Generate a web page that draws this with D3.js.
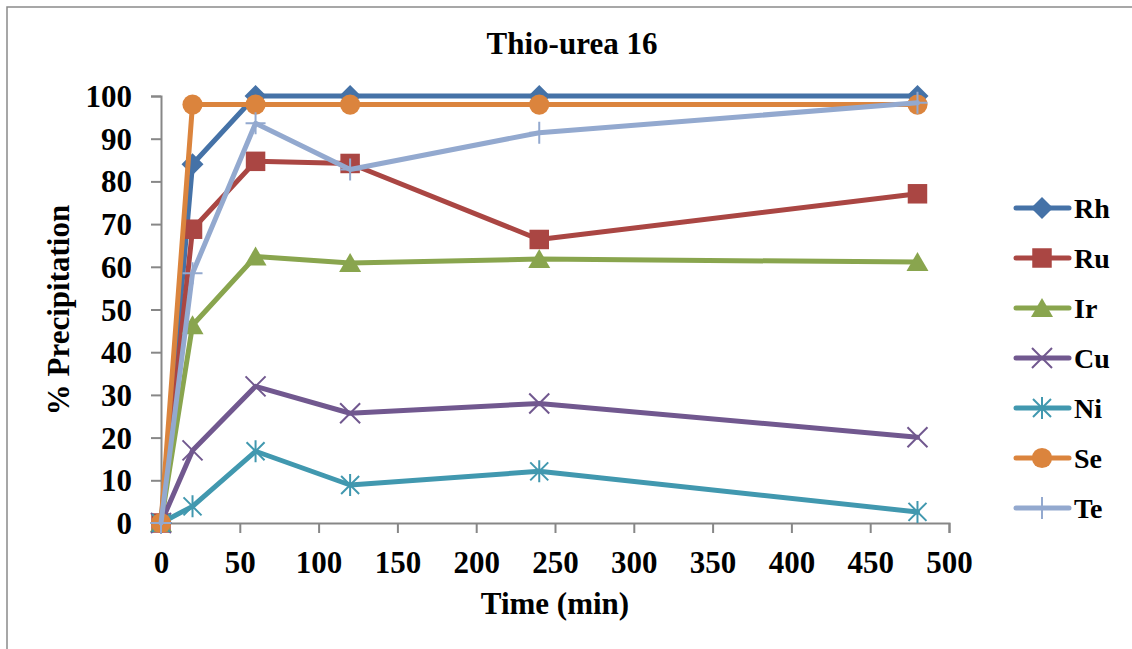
<!DOCTYPE html>
<html>
<head>
<meta charset="utf-8">
<script src="https://cdn.jsdelivr.net/npm/d3@7"></script>
<style>
  html, body { margin: 0; padding: 0; background: #fff; }
  svg text { font-family: "Liberation Serif", "Times New Roman", serif; font-weight: bold; fill: #000; }
</style>
</head>
<body>
<svg id="chart" width="1132" height="649"></svg>
<script>
// Sampling times (min)
const times = [0, 20, 60, 120, 240, 480];

// % precipitation per element
const rh = [0, 84, 100, 100, 100, 100];
const ru = [0, 68.8, 84.7, 84.2, 66.4, 77.1];
const ir = [0, 46.3, 62.4, 60.9, 61.8, 61.1];
const cu = [0, 17, 32, 25.7, 28, 20.1];
const ni = [0, 3.9, 16.8, 8.9, 12.1, 2.6];
const se = [0, 98, 98, 98, 98, 98];
const te = [0, 58.5, 93.6, 82.8, 91.4, 98.4];

const seriesNames = ["Rh", "Ru", "Ir", "Cu", "Ni", "Se", "Te"];
const seriesValues = [rh, ru, ir, cu, ni, se, te];

const xTicks = [0, 50, 100, 150, 200, 250, 300, 350, 400, 450, 500];
const yTicks = [0, 10, 20, 30, 40, 50, 60, 70, 80, 90, 100];

const chartTitle = "Thio-urea 16";
const xTitle = "Time (min)";
const yTitle = "% Precipitation";

// Styling
const colors = ["#4572A7", "#AA4643", "#89A54E", "#71588F", "#4198AF", "#DB843D", "#93A9CF"];
const markers = ["diamond", "square", "triangle", "x", "star", "circle", "plus"];

const svg = d3.select("#chart");

// Outer chart border
svg.append("rect")
  .attr("x", 7).attr("y", 7)
  .attr("width", 1140).attr("height", 680)
  .attr("fill", "#fff")
  .attr("stroke", "#8a8a8a").attr("stroke-width", 1.5);

const x = d3.scaleLinear().domain([0, 500]).range([161, 949]);
const y = d3.scaleLinear().domain([0, 100]).range([523, 96]);

const axisColor = "#878787";

// Y axis
const yAxis = svg.append("g").attr("transform", `translate(${x(0)},0)`)
  .call(d3.axisLeft(y).tickValues(yTicks).tickSize(10).tickPadding(19));
// X axis
const xAxis = svg.append("g").attr("transform", `translate(0,${y(0)})`)
  .call(d3.axisBottom(x).tickValues(xTicks).tickSize(10).tickPadding(18));

[yAxis, xAxis].forEach(g => {
  g.select(".domain").attr("stroke", axisColor).attr("stroke-width", 2);
  g.selectAll(".tick line").attr("stroke", axisColor).attr("stroke-width", 2);
  g.selectAll(".tick text")
    .style("font-family", "'Liberation Serif', serif")
    .style("font-weight", "bold")
    .style("font-size", "31px")
    .attr("fill", "#000");
});
yAxis.selectAll(".tick text").attr("dy", "0.34em");
xAxis.selectAll(".tick text").attr("dy", "0.70em");

// Titles
svg.append("text").attr("x", 572).attr("y", 54)
  .attr("text-anchor", "middle").style("font-size", "31px").text(chartTitle);
svg.append("text").attr("x", 555).attr("y", 614)
  .attr("text-anchor", "middle").style("font-size", "31px").text(xTitle);
svg.append("text")
  .attr("transform", "translate(69,310) rotate(-90)")
  .attr("text-anchor", "middle").style("font-size", "31px").text(yTitle);

// Marker drawing
function drawMarker(g, type, color) {
  const s = 10;
  if (type === "diamond") {
    g.append("path").attr("d", `M0,${-s - 1}L${s + 1},0L0,${s + 1}L${-s - 1},0Z`).attr("fill", color);
  } else if (type === "square") {
    g.append("path").attr("d", d3.symbol(d3.symbolSquare, 380)()).attr("fill", color);
  } else if (type === "triangle") {
    g.append("path").attr("d", `M0,${-s}L${s + 1},${s - 1}L${-s - 1},${s - 1}Z`).attr("fill", color);
  } else if (type === "circle") {
    g.append("path").attr("d", d3.symbol(d3.symbolCircle, 320)()).attr("fill", color);
  } else if (type === "x") {
    g.append("path").attr("d", `M${-s},${-s}L${s},${s}M${-s},${s}L${s},${-s}`)
      .attr("stroke", color).attr("stroke-width", 2).attr("fill", "none");
  } else if (type === "star") {
    g.append("path").attr("d", `M${-s + 1},${-s + 1}L${s - 1},${s - 1}M${-s + 1},${s - 1}L${s - 1},${-s + 1}M0,${-s - 1}L0,${s + 1}`)
      .attr("stroke", color).attr("stroke-width", 2).attr("fill", "none");
  } else if (type === "plus") {
    g.append("path").attr("d", `M0,${-s - 1}L0,${s + 1}M${-s},0L${s},0`)
      .attr("stroke", color).attr("stroke-width", 2).attr("fill", "none");
  }
}

const line = d3.line().x(d => x(d[0])).y(d => y(d[1]));

seriesNames.forEach((name, i) => {
  const pts = times.map((t, j) => [t, seriesValues[i][j]]);
  const g = svg.append("g").attr("class", "series");
  g.append("path").datum(pts)
    .attr("d", line)
    .attr("fill", "none")
    .attr("stroke", colors[i])
    .attr("stroke-width", 5)
    .attr("stroke-linejoin", "round")
    .attr("stroke-linecap", "round");
  pts.forEach(p => {
    const m = g.append("g").attr("transform", `translate(${x(p[0])},${y(p[1])})`);
    drawMarker(m, markers[i], colors[i]);
  });
});

// Legend
const legend = svg.append("g");
seriesNames.forEach((name, i) => {
  const ly = 208 + i * 50;
  const row = legend.append("g").attr("transform", `translate(0,${ly})`);
  row.append("line").attr("x1", 1016).attr("x2", 1069).attr("y1", 0).attr("y2", 0)
    .attr("stroke", colors[i]).attr("stroke-width", 5).attr("stroke-linecap", "round");
  const m = row.append("g").attr("transform", "translate(1042,0)");
  drawMarker(m, markers[i], colors[i]);
  row.append("text").attr("x", 1074).attr("y", 10)
    .style("font-size", "28px").text(name);
});
</script>
</body>
</html>
